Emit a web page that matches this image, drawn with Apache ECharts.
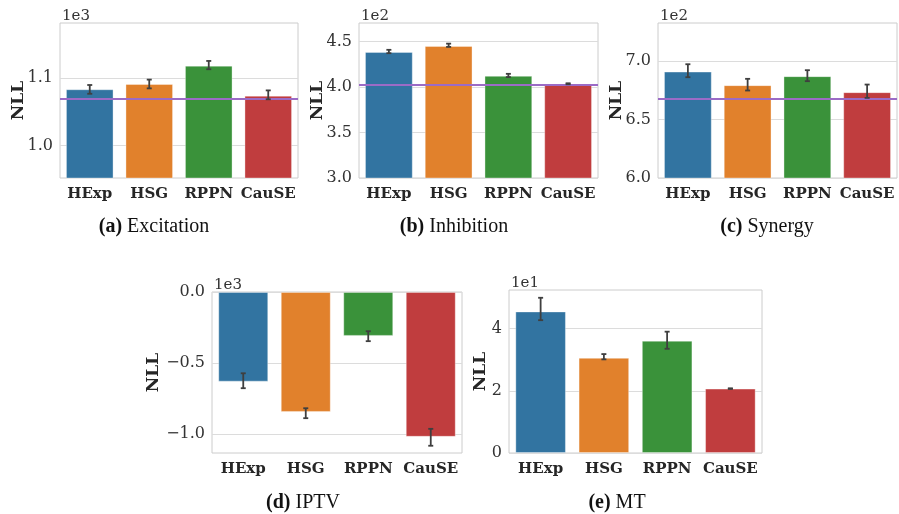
<!DOCTYPE html>
<html>
<head>
<meta charset="utf-8">
<script src="https://cdn.jsdelivr.net/npm/echarts@6/dist/echarts.min.js"></script>
<style>
  html, body { margin: 0; padding: 0; background: #fff; }
  #chart { width: 899px; height: 514px; }
</style>
</head>
<body>
<div id="chart"></div>
<script>
const methods = ['HExp', 'HSG', 'RPPN', 'CauSE'];
const barColors = ['#3274a1', '#e1812c', '#3a923a', '#c03d3e'];

// (a) Excitation
const excitationMean = [1083.7, 1091.5, 1118.7, 1074.2];
const excitationLow = [1077.0, 1085.0, 1113.4, 1068.8];
const excitationHigh = [1090.0, 1098.0, 1125.7, 1082.0];
const excitationRef = 1069.7;
const excitationTicks = [1000, 1100];

// (b) Inhibition
const inhibitionMean = [438.7, 445.3, 412.4, 403.6];
const inhibitionLow = [437.3, 444.2, 411.0, 403.1];
const inhibitionHigh = [441.0, 447.8, 414.6, 404.2];
const inhibitionRef = 402.2;
const inhibitionTicks = [300, 350, 400, 450];

// (c) Synergy
const synergyMean = [691.1, 679.5, 687.2, 673.5];
const synergyLow = [686.3, 674.9, 682.9, 668.6];
const synergyHigh = [697.4, 684.9, 692.3, 680.0];
const synergyRef = 667.5;
const synergyTicks = [600, 650, 700];

// (d) IPTV
const iptvMean = [-631, -844, -309, -1019];
const iptvLow = [-677, -888, -346, -1082];
const iptvHigh = [-572, -818, -276, -963];
const iptvTicks = [-1000, -500, 0];

// (e) MT
const mtMean = [45.5, 30.6, 36.1, 20.7];
const mtLow = [42.7, 30.1, 33.5, 20.6];
const mtHigh = [49.9, 31.8, 39.0, 20.8];
const mtTicks = [0, 20, 40];

const panels = [
  { mean: excitationMean, low: excitationLow, high: excitationHigh, ref: excitationRef, ticks: excitationTicks,
    min: 952, max: 1182, scale: 1e3, exp: '1e3', digits: 1, tag: '(a)', name: 'Excitation',
    grid: { left: 60, top: 23, width: 238, height: 155 }, nameGap: 33, capX: 154, capY: 227 },
  { mean: inhibitionMean, low: inhibitionLow, high: inhibitionHigh, ref: inhibitionRef, ticks: inhibitionTicks,
    min: 300, max: 470.5, scale: 1e2, exp: '1e2', digits: 1, tag: '(b)', name: 'Inhibition',
    grid: { left: 359, top: 23, width: 239, height: 155 }, nameGap: 33, capX: 454, capY: 227 },
  { mean: synergyMean, low: synergyLow, high: synergyHigh, ref: synergyRef, ticks: synergyTicks,
    min: 600, max: 732.7, scale: 1e2, exp: '1e2', digits: 1, tag: '(c)', name: 'Synergy',
    grid: { left: 658, top: 23, width: 239, height: 155 }, nameGap: 33, capX: 767, capY: 227 },
  { mean: iptvMean, low: iptvLow, high: iptvHigh, ref: null, ticks: iptvTicks,
    min: -1133, max: 0, scale: 1e3, exp: '1e3', digits: 1, tag: '(d)', name: 'IPTV',
    grid: { left: 212, top: 292, width: 250, height: 161 }, nameGap: 50, capX: 303, capY: 503 },
  { mean: mtMean, low: mtLow, high: mtHigh, ref: null, ticks: mtTicks,
    min: 0, max: 52.4, scale: 1e1, exp: '1e1', digits: 0, tag: '(e)', name: 'MT',
    grid: { left: 509, top: 290, width: 253, height: 163 }, nameGap: 20, capX: 617, capY: 503 },
];

const textColor = '#262626';
const grids = [];
const xAxes = [];
const yAxes = [];
const series = [];
const graphics = [];

panels.forEach((p, k) => {
  grids.push(Object.assign({ show: true, borderColor: '#cccccc', borderWidth: 1, backgroundColor: '#fff' }, p.grid));
  xAxes.push({
    type: 'category', gridIndex: k, data: methods,
    axisLine: { show: false }, axisTick: { show: false },
    axisLabel: { fontFamily: 'DejaVu Serif', fontWeight: 'bold', fontSize: 15, color: textColor, margin: 9, interval: 0 },
  });
  yAxes.push({
    type: 'value', gridIndex: k, min: p.min, max: p.max,
    name: 'NLL', nameLocation: 'middle', nameGap: p.nameGap, nameMoveOverlap: false,
    nameTextStyle: { fontFamily: 'DejaVu Serif', fontWeight: 'bold', fontSize: 17, color: textColor },
    axisLine: { show: false },
    axisTick: { show: false, customValues: p.ticks },
    axisLabel: {
      customValues: p.ticks, fontFamily: 'DejaVu Serif', fontSize: 16, color: '#333', margin: 7,
      formatter: v => (v / p.scale).toFixed(p.digits).replace('-', '\u2212'),
    },
    splitLine: { show: true, lineStyle: { color: '#dcdcdc', width: 1.2 } },
  });
  const bar = {
    type: 'bar', xAxisIndex: k, yAxisIndex: k, barCategoryGap: '20%',
    data: p.mean.map((v, i) => ({ value: v, itemStyle: { color: barColors[i] } })),
    itemStyle: { borderColor: 'rgba(255,255,255,0.35)', borderWidth: 1 },
    z: 2,
  };
  if (p.ref !== null) {
    bar.markLine = {
      silent: true, symbol: 'none', label: { show: false },
      lineStyle: { color: '#9b6bc6', width: 2, type: 'solid' },
      data: [{ yAxis: p.ref }],
      z: 4,
    };
  }
  series.push(bar);
  series.push({
    type: 'custom', xAxisIndex: k, yAxisIndex: k, z: 5,
    data: methods.map((m, i) => [i, p.low[i], p.high[i]]),
    renderItem(params, api) {
      const lo = api.coord([api.value(0), api.value(1)]);
      const hi = api.coord([api.value(0), api.value(2)]);
      const cap = 2.5;
      const st = { stroke: '#3f3f3f', lineWidth: 1.8 };
      return {
        type: 'group',
        children: [
          { type: 'line', shape: { x1: lo[0], y1: lo[1], x2: hi[0], y2: hi[1] }, style: st },
          { type: 'line', shape: { x1: lo[0] - cap, y1: lo[1], x2: lo[0] + cap, y2: lo[1] }, style: st },
          { type: 'line', shape: { x1: hi[0] - cap, y1: hi[1], x2: hi[0] + cap, y2: hi[1] }, style: st },
        ],
      };
    },
  });
  // scale offset text and caption
  graphics.push({
    type: 'text', left: p.grid.left + 2, top: p.grid.top - 14, z: 10,
    style: { text: p.exp, font: '15px "DejaVu Serif"', fill: '#333' },
  });
  graphics.push({
    type: 'text', x: p.capX, y: p.capY, z: 10,
    style: {
      text: '{b|' + p.tag + '} ' + p.name,
      font: '20px "Liberation Serif"', fill: '#111',
      align: 'center', verticalAlign: 'middle',
      rich: { b: { font: 'bold 20px "Liberation Serif"', fill: '#111' } },
    },
  });
});

const chart = echarts.init(document.getElementById('chart'));
chart.setOption({
  backgroundColor: '#fff',
  animation: false,
  grid: grids,
  xAxis: xAxes,
  yAxis: yAxes,
  series: series,
  graphic: graphics,
});
</script>
</body>
</html>
